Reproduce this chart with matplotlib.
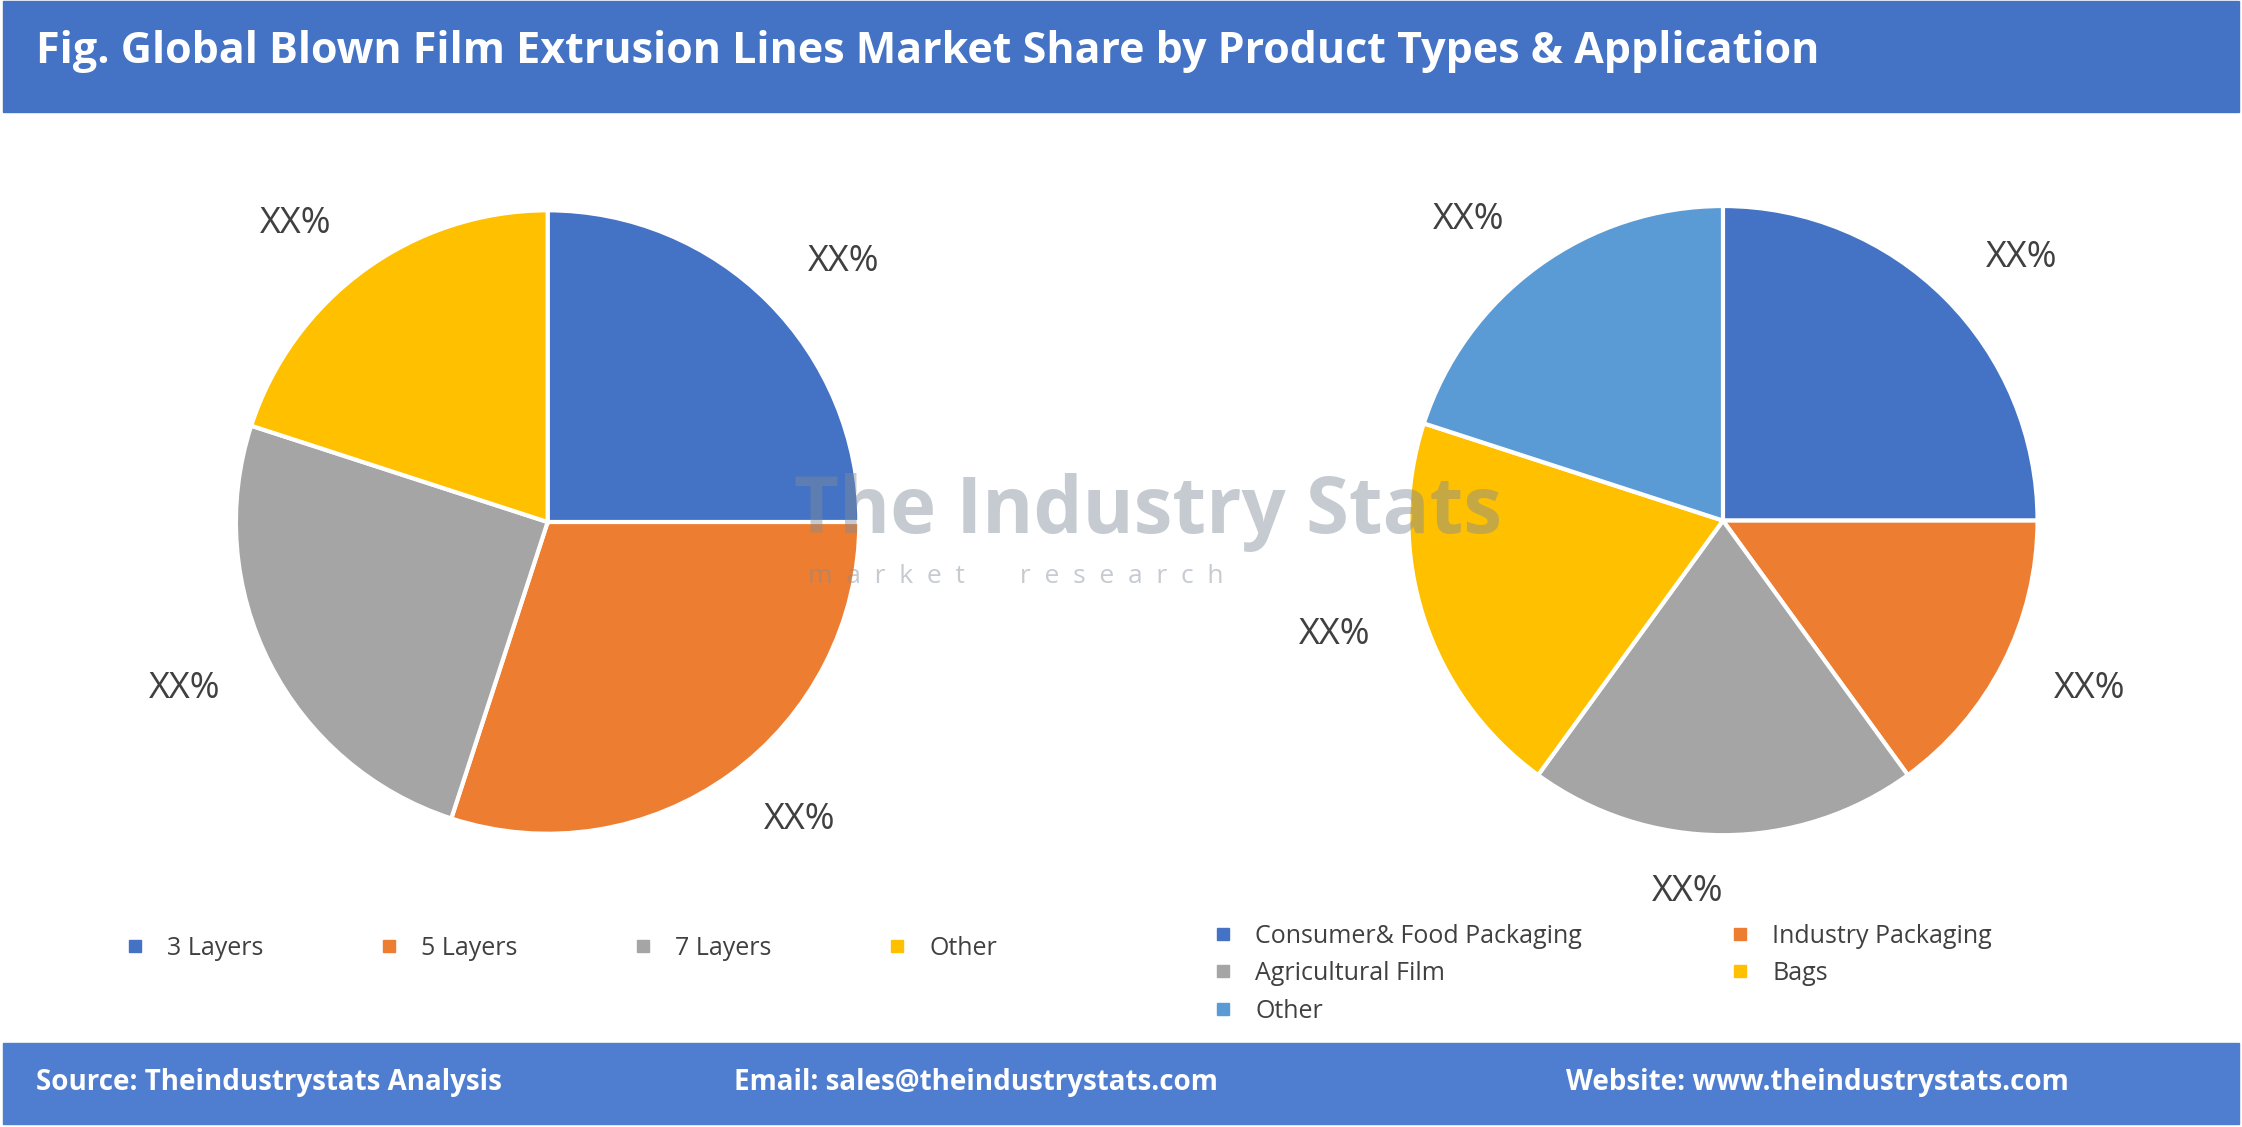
import matplotlib.pyplot as plt
from matplotlib.patches import Rectangle
from matplotlib.lines import Line2D

W, H = 1568, 788  # layout reference units

type_labels = ['3 Layers', '5 Layers', '7 Layers', 'Other']
type_values = [25, 30, 25, 20]
type_colors = ['#4472C4', '#ED7D31', '#A5A5A5', '#FFC000']

app_labels = ['Consumer& Food Packaging', 'Industry Packaging', 'Agricultural Film', 'Bags', 'Other']
app_values = [25, 15, 20, 20, 20]
app_colors = ['#4472C4', '#ED7D31', '#A5A5A5', '#FFC000', '#5B9BD5']

fig = plt.figure(figsize=(22.42, 11.27), dpi=100)
plt.rcParams['font.family'] = ['Open Sans', 'DejaVu Sans']

def box(x0, y0, x1, y1):
    return [x0 / W, 1 - y1 / H, (x1 - x0) / W, (y1 - y0) / H]

# header and footer bands
fig.patches.append(Rectangle((2 / W, 1 - 78 / H), 1 - 4 / W, 77 / H, transform=fig.transFigure,
                             color='#4472C4', zorder=0))
fig.patches.append(Rectangle((2 / W, 1 - 786 / H), 1 - 4 / W, 57 / H, transform=fig.transFigure,
                             color='#4F7ED0', zorder=0))
fig.text(25 / W, 1 - 36 / H, 'Fig. Global Blown Film Extrusion Lines Market Share by Product Types & Application',
         color='white', fontsize=31, fontweight='bold', va='center')
fy = 1 - 757 / H
fig.text(25 / W, fy, 'Source: Theindustrystats Analysis', color='white', fontsize=20, fontweight='bold', va='center')
fig.text(513 / W, fy, 'Email: sales@theindustrystats.com', color='white', fontsize=20, fontweight='bold', va='center')
fig.text(1095 / W, fy, 'Website: www.theindustrystats.com', color='white', fontsize=20, fontweight='bold', va='center')

# watermark
fig.text(555 / W, 1 - 358 / H, 'The Industry Stats', color='#7f8c99', alpha=0.45, fontsize=56,
         fontweight='bold', va='center', zorder=5)
fig.text(565 / W, 1 - 403 / H, 'm  a  r  k  e  t        r  e  s  e  a  r  c  h', color='#7f8c99', alpha=0.45,
         fontsize=19, va='center', zorder=5)

def draw_pie(rect, values, colors):
    ax = fig.add_axes(rect)
    ax.pie(values, colors=colors, startangle=90, counterclock=False,
           labels=['XX%'] * len(values), labeldistance=1.18,
           wedgeprops=dict(edgecolor='white', linewidth=3),
           textprops=dict(fontsize=26, color='#404040'))
    ax.set_xlim(-1, 1)
    ax.set_ylim(-1, 1)
    ax.set_aspect('equal')
    return ax

r = 218
draw_pie(box(383 - r, 365 - r, 383 + r, 365 + r), type_values, type_colors)
r = 220
draw_pie(box(1205 - r, 364 - r, 1205 + r, 364 + r), app_values, app_colors)

def handles(labels, colors):
    return [Line2D([], [], marker='s', linestyle='', markersize=8, color=c, label=l)
            for l, c in zip(labels, colors)]

fig.legend(handles=handles(type_labels, type_colors), ncol=4, loc='center',
           bbox_to_anchor=(387 / W, 1 - 663 / H), frameon=False, fontsize=18,
           columnspacing=4.0, handletextpad=0.3, labelcolor='#404040')
order = [0, 2, 4, 1, 3]
fig.legend(handles=[handles(app_labels, app_colors)[i] for i in order], ncol=2, loc='upper left',
           bbox_to_anchor=(822 / W, 1 - 630 / H), frameon=False, fontsize=18,
           columnspacing=5.3, handletextpad=0.3, labelspacing=0.5, labelcolor='#404040')

fig.savefig('out.png', dpi=100, facecolor='white')
